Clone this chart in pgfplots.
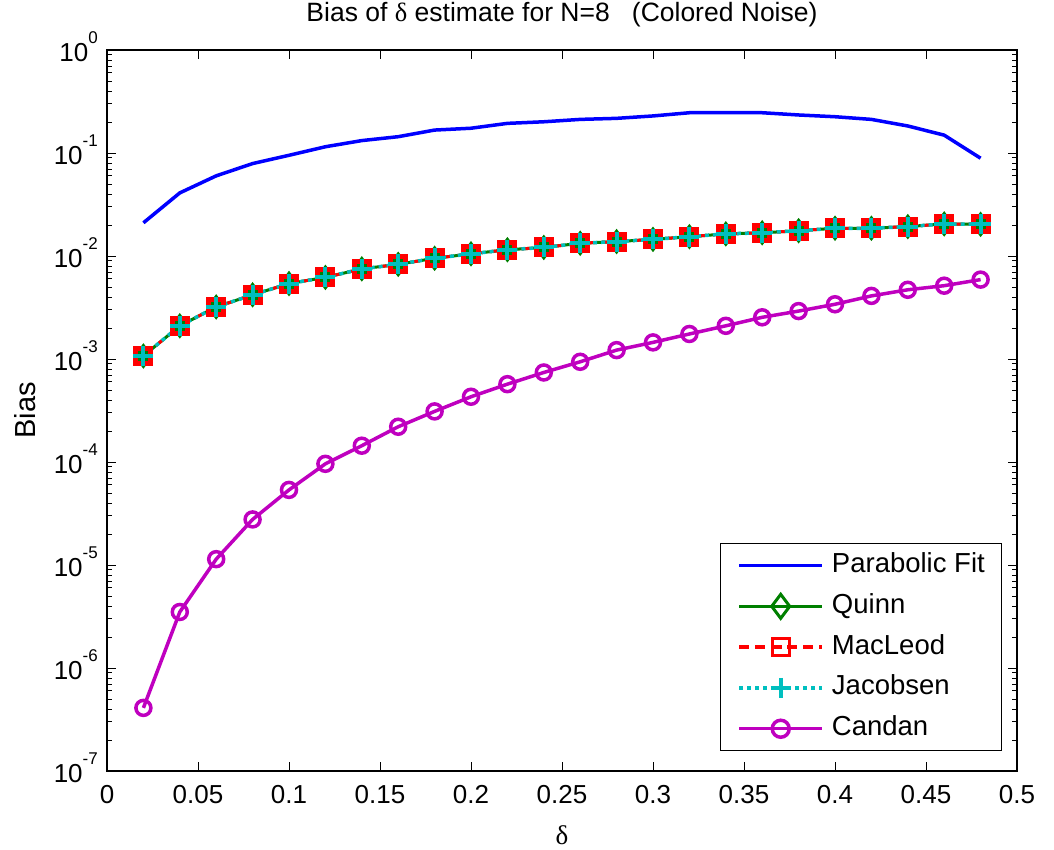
\documentclass[border=0pt]{standalone}
\usepackage{pgfplots}
\pgfplotsset{compat=1.18}
\usepackage{fontspec}
\setmainfont{Liberation Sans}
\newfontfamily\serif{Liberation Serif}
\definecolor{mblue}{rgb}{0,0,1}
\definecolor{mgreen}{rgb}{0,0.5,0}
\definecolor{mred}{rgb}{1,0,0}
\definecolor{mcyan}{rgb}{0,0.75,0.75}
\definecolor{mmag}{rgb}{0.75,0,0.75}
\newcommand{\ex}[1]{10\raisebox{18pt}{\fontsize{17}{17}\selectfont #1}}
\newcommand{\bigf}{\fontsize{26}{31}\selectfont}
\begin{document}
\begin{tikzpicture}
\begin{axis}[
  at={(0,0)}, anchor=south west,
  width=910pt, height=721pt, scale only axis,
  ymode=log, log basis y=10,
  xmin=0, xmax=0.5, ymin=1e-7, ymax=1,
  xtick={0,0.05,0.1,0.15,0.2,0.25,0.3,0.35,0.4,0.45,0.5},
  xticklabels={0,0.05,0.1,0.15,0.2,0.25,0.3,0.35,0.4,0.45,0.5},
  ytick={1e-7,1e-6,1e-5,1e-4,1e-3,1e-2,1e-1,1},
  yticklabels={\ex{-7},\ex{-6},\ex{-5},\ex{-4},\ex{-3},\ex{-2},\ex{-1},\ex{0}},
  minor ytick={2e-7,3e-7,4e-7,5e-7,6e-7,7e-7,8e-7,9e-7,
    2e-6,3e-6,4e-6,5e-6,6e-6,7e-6,8e-6,9e-6,
    2e-5,3e-5,4e-5,5e-5,6e-5,7e-5,8e-5,9e-5,
    2e-4,3e-4,4e-4,5e-4,6e-4,7e-4,8e-4,9e-4,
    2e-3,3e-3,4e-3,5e-3,6e-3,7e-3,8e-3,9e-3,
    2e-2,3e-2,4e-2,5e-2,6e-2,7e-2,8e-2,9e-2,
    0.2,0.3,0.4,0.5,0.6,0.7,0.8,0.9},
  tick label style={font=\bigf, inner sep=0pt},
  xticklabel style={anchor=base, yshift=-32pt},
  yticklabel style={anchor=base east, xshift=-9pt, yshift=-11pt},
  major tick length=9pt, minor tick length=5pt,
  tick style={black, line width=0.8pt},
  axis line style={line width=1.2pt},
  title={Bias of {\serif δ} estimate for N=8\ \ \ (Colored Noise)},
  title style={at={(axis description cs:0.5,1)}, anchor=base, yshift=23pt, font=\fontsize{26.5}{31}\selectfont, inner sep=0pt},
  xlabel={{\serif δ}},
  xlabel style={at={(axis description cs:0.5,0)}, anchor=base, yshift=-73pt, font=\fontsize{27}{31}\selectfont, inner sep=0pt},
  ylabel={Bias},
  ylabel style={at={(axis description cs:-0.0791,0.5)}, anchor=base, font=\fontsize{29}{34}\selectfont, inner sep=0pt},
  legend image code/.code={\draw[mark repeat=2,mark phase=2,#1] plot coordinates {(0pt,0pt) (41.5pt,0pt) (83pt,0pt)};},
  legend style={at={(axis description cs:0.6736,0.3162)}, anchor=north west, draw=black, line width=1pt,
    inner xsep=17pt, inner ysep=10pt, font=\fontsize{27.5}{32}\selectfont, row sep=16.8pt,
    nodes={inner sep=0pt, text height=19pt, text depth=5pt},
    /tikz/every odd column/.append style={column sep=8pt}},
  legend cell align=left,
]
\addplot[mblue, line width=3.5pt, forget plot] coordinates {
(0.02,0.021) (0.04,0.041) (0.06,0.060) (0.08,0.079) (0.10,0.095) (0.12,0.115)
(0.14,0.132) (0.16,0.144) (0.18,0.167) (0.20,0.174) (0.22,0.194) (0.24,0.201)
(0.26,0.212) (0.28,0.217) (0.30,0.229) (0.32,0.246) (0.34,0.246) (0.36,0.246)
(0.38,0.234) (0.40,0.225) (0.42,0.212) (0.44,0.183) (0.46,0.149) (0.48,0.089)};
\addplot[mgreen, line width=3pt, mark=diamond*, mark size=12pt, mark options={solid, fill=mgreen, line width=1pt}, forget plot] coordinates {
(0.02,1.07e-3) (0.04,2.1e-3) (0.06,3.2e-3) (0.08,4.2e-3) (0.10,5.4e-3) (0.12,6.2e-3)
(0.14,7.5e-3) (0.16,8.3e-3) (0.18,9.5e-3) (0.20,1.05e-2) (0.22,1.15e-2) (0.24,1.21e-2)
(0.26,1.33e-2) (0.28,1.38e-2) (0.30,1.45e-2) (0.32,1.54e-2) (0.34,1.64e-2) (0.36,1.68e-2)
(0.38,1.76e-2) (0.40,1.86e-2) (0.42,1.86e-2) (0.44,1.93e-2) (0.46,2.05e-2) (0.48,2.03e-2)};
\addplot[mred, line width=3pt, dash pattern=on 10pt off 6pt, mark=square, mark size=7.5pt, mark options={solid, line width=5pt}, forget plot] coordinates {
(0.02,1.07e-3) (0.04,2.1e-3) (0.06,3.2e-3) (0.08,4.2e-3) (0.10,5.4e-3) (0.12,6.2e-3)
(0.14,7.5e-3) (0.16,8.3e-3) (0.18,9.5e-3) (0.20,1.05e-2) (0.22,1.15e-2) (0.24,1.21e-2)
(0.26,1.33e-2) (0.28,1.38e-2) (0.30,1.45e-2) (0.32,1.54e-2) (0.34,1.64e-2) (0.36,1.68e-2)
(0.38,1.76e-2) (0.40,1.86e-2) (0.42,1.86e-2) (0.44,1.93e-2) (0.46,2.05e-2) (0.48,2.03e-2)};
\addplot[mcyan, line width=3.5pt, dash pattern=on 4pt off 4pt, mark=+, mark size=10pt, mark options={solid, line width=4pt}, forget plot] coordinates {
(0.02,1.07e-3) (0.04,2.1e-3) (0.06,3.2e-3) (0.08,4.2e-3) (0.10,5.4e-3) (0.12,6.2e-3)
(0.14,7.5e-3) (0.16,8.3e-3) (0.18,9.5e-3) (0.20,1.05e-2) (0.22,1.15e-2) (0.24,1.21e-2)
(0.26,1.33e-2) (0.28,1.38e-2) (0.30,1.45e-2) (0.32,1.54e-2) (0.34,1.64e-2) (0.36,1.68e-2)
(0.38,1.76e-2) (0.40,1.86e-2) (0.42,1.86e-2) (0.44,1.93e-2) (0.46,2.05e-2) (0.48,2.03e-2)};
\addplot[mmag, line width=3.5pt, mark=o, mark size=7.5pt, mark options={solid, line width=3.5pt}, forget plot] coordinates {
(0.02,4.1e-7) (0.04,3.5e-6) (0.06,1.14e-5) (0.08,2.77e-5) (0.10,5.36e-5) (0.12,9.6e-5)
(0.14,1.44e-4) (0.16,2.2e-4) (0.18,3.1e-4) (0.20,4.3e-4) (0.22,5.7e-4) (0.24,7.4e-4)
(0.26,9.4e-4) (0.28,1.22e-3) (0.30,1.45e-3) (0.32,1.75e-3) (0.34,2.1e-3) (0.36,2.54e-3)
(0.38,2.92e-3) (0.40,3.4e-3) (0.42,4.1e-3) (0.44,4.7e-3) (0.46,5.15e-3) (0.48,5.9e-3)};
\addlegendimage{mblue, line width=3.5pt}
\addlegendentry{Parabolic Fit}
\addlegendimage{mgreen, line width=3.5pt, mark=diamond, mark size=12pt, mark options={solid, line width=3pt, fill=white}}
\addlegendentry{Quinn}
\addlegendimage{mred, line width=3.5pt, dash pattern=on 10pt off 6pt, mark=square, mark size=8.5pt, mark options={solid, line width=3pt, fill=white}}
\addlegendentry{MacLeod}
\addlegendimage{mcyan, line width=3.5pt, dash pattern=on 4pt off 4pt, mark=+, mark size=10pt, mark options={solid, line width=4pt}}
\addlegendentry{Jacobsen}
\addlegendimage{mmag, line width=3.5pt, mark=o, mark size=8.5pt, mark options={solid, line width=3.5pt, fill=white}}
\addlegendentry{Candan}
\end{axis}
\pgfresetboundingbox
\path (-107pt,-78pt) rectangle (947pt,771pt);
\end{tikzpicture}
\end{document}
